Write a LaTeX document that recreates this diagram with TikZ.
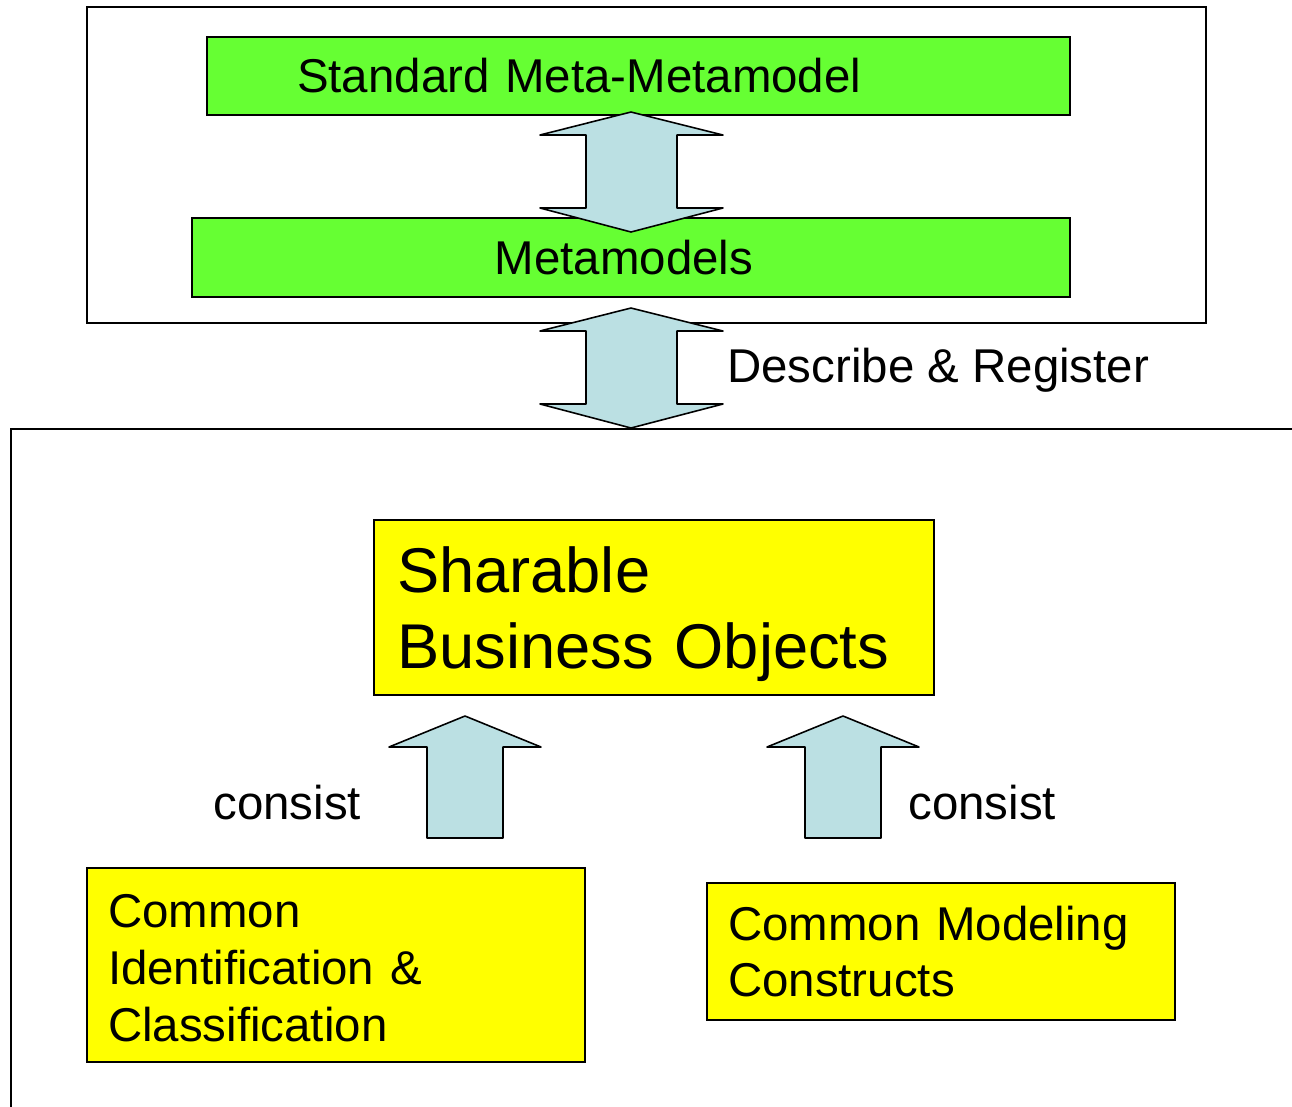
\documentclass[tikz,border=0pt]{standalone}
\usepackage{fontspec}
\setmainfont{Liberation Sans}
\usepackage{xcolor}
\usetikzlibrary{positioning}

\definecolor{metagreen}{HTML}{66FF33}
\definecolor{objyellow}{HTML}{FFFF00}
\definecolor{arrowblue}{HTML}{BBE0E3}

\begin{document}
\begin{tikzpicture}
                [x=0.02cm, y=-0.02cm,
                font=\fontsize{27}{32.4}\selectfont,
                layer box/.style={draw, line width=1.1pt},
                meta box/.style={draw, line width=0.8pt, fill=metagreen,
                    inner sep=0pt},
                obj box/.style={draw, line width=0.8pt, fill=objyellow,
                    align=left, inner ysep=0pt},
                block arrow/.style={draw, line width=0.9pt, fill=arrowblue,
                    line join=round},
                ]
                \useasboundingbox (0,0) rectangle (1292,1106);

                % outer frames
                \draw[layer box] (87,7) rectangle (1206,323);
                \draw[layer box] (1300,429) -- (11,429) -- (11,1112);

                % meta levels
                \node[meta box, minimum width=17.26cm, minimum height=1.56cm,
                    text width=13.66cm, inner xsep=1.8cm, align=left]
                    (mmm) at (638.5,76) {Standard Meta-Metamodel};
                \node[meta box, minimum width=17.56cm, minimum height=1.58cm]
                    (mm) at (631,257.5) {Metamodels\hspace*{0.28cm}};

                % business objects
                \node[obj box, minimum width=11.2cm, minimum height=3.5cm,
                    text width=10.28cm, inner xsep=0.46cm,
                    font=\fontsize{36}{43.2}\selectfont]
                    (sbo) at (654,607.5) {\rule{0pt}{34pt}Sharable\\Business Objects};
                \node[obj box, minimum width=9.96cm, minimum height=3.88cm,
                    text width=9.12cm, inner xsep=0.42cm]
                    (cic) at (336,965) {\rule{0pt}{22pt}Common\\Identification \&\\Classification};
                \node[obj box, minimum width=9.36cm, minimum height=2.74cm,
                    text width=8.52cm, inner xsep=0.42cm]
                    (cmc) at (941,951.5) {Common Modeling\\Constructs};

                % double arrows
                \foreach \top/\bot in {112/232, 308/428}
                    \draw[block arrow] (631,\top) -- (723,\top+23)
                        -- (677,\top+23) -- (677,\bot-24) -- (723,\bot-24)
                        -- (631,\bot) -- (540,\bot-24) -- (586,\bot-24)
                        -- (586,\top+23) -- (540,\top+23) -- cycle;

                % up arrows
                \foreach \mid in {465, 843}
                    \draw[block arrow] (\mid,716) -- (\mid+76,747)
                        -- (\mid+38,747) -- (\mid+38,838) -- (\mid-38,838)
                        -- (\mid-38,747) -- (\mid-76,747) -- cycle;

                % labels
                \node[anchor=base west, inner sep=0pt] (reg) at (727,382)
                    {Describe \& Register};
                \node[anchor=base west, inner sep=0pt] (cons1) at (213,819)
                    {consist};
                \node[anchor=base west, inner sep=0pt] (cons2) at (908,819)
                    {consist};
            \end{tikzpicture}
\end{document}
